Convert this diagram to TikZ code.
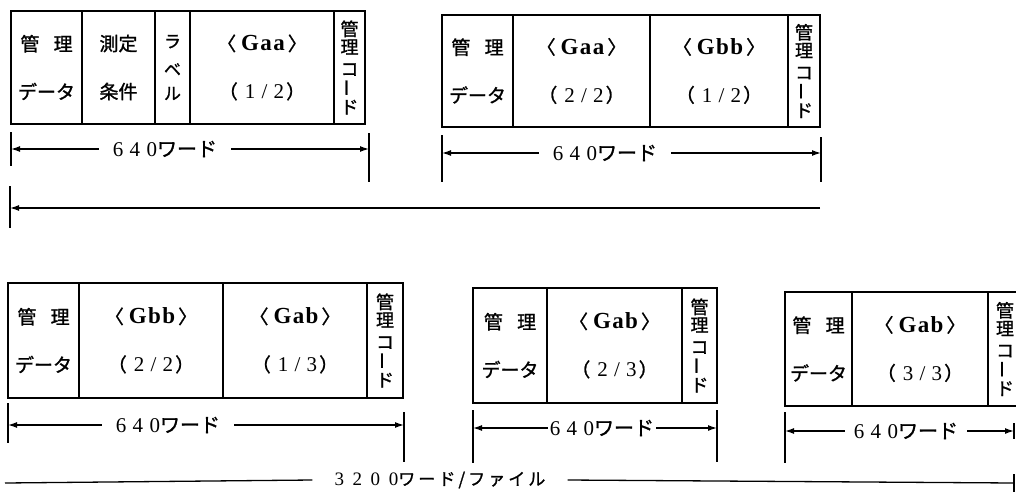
\documentclass[tikz,border=0pt]{standalone}
\usepackage{fontspec}
\usepackage{graphicx}
\usetikzlibrary{arrows.meta}
\setmainfont{Liberation Serif}
\newfontfamily\jp{Noto Sans CJK JP}[FakeBold=1.2]
\newfontfamily\jpw{Noto Sans CJK JP}[LetterSpace=18,FakeBold=1.2]
\newfontfamily\latw{Liberation Serif}[LetterSpace=6]
\newfontfamily\latww{Liberation Serif}[LetterSpace=30]
\newfontfamily\latwww{Liberation Serif}[LetterSpace=45]
\newcommand\mygrp[1]{{\jp 〈}\hspace{5pt}{\latw\bfseries\fontsize{23}{24}\selectfont #1}\hspace{3pt}{\jp 〉}}
\newcommand\myfrac[2]{{\jp （}\hspace{7pt}{\latww\fontsize{21}{22}\selectfont #1/#2}\hspace{2pt}{\jp ）}}
\newcommand\mywords{{\latww\fontsize{21}{22}\selectfont 640}{\jp ワード}}
\newcommand\mybar{\rotatebox{90}{ー}}
\newcommand\mycode{管\\[-3pt]理\\[1pt]コ\\[0pt]\mybar\\[-4pt]ド}
\newcommand\mymgmt{管\hspace{0.75em}理\\[26pt]データ}
\tikzset{
  cell/.style={draw, line width=1.5pt, inner sep=0pt, align=center,
    font=\jp\fontsize{19}{22}\selectfont},
  codecell/.style={cell, font=\jp\fontsize{18}{21}\selectfont},
  hA/.style={minimum height=113pt},
  hB/.style={minimum height=112pt},
  hC/.style={minimum height=115pt},
  hD/.style={minimum height=115pt},
  hE/.style={minimum height=114pt},
  dimlbl/.style={inner ysep=0pt, inner xsep=14pt, font=\jp\fontsize{20}{22}\selectfont},
  dimline/.style={line width=1.3pt, -{Latex[length=9pt,width=6pt]}},
  plainline/.style={line width=1.3pt},
  tickline/.style={line width=1.3pt}
}
\begin{document}
\begin{tikzpicture}[x=1pt,y=-1pt]
\useasboundingbox (0,0) rectangle (1016,503);
\clip (0,0) rectangle (1016,503);

% ---------- Box A ----------
\node[cell,hA,minimum width=71pt] (a1) at (46.5,67.5) {\mymgmt};
\node[cell,hA,minimum width=73pt] (a2) at (118.5,67.5) {測定\\[26pt]条件};
\node[cell,hA,minimum width=35pt,font=\jp\fontsize{17}{19}\selectfont] (a3) at (172.5,67.5) {ラ\\[9pt]ベ\\[5pt]ル};
\node[cell,hA,minimum width=144pt] (a4) at (262,67.5) {\mygrp{Gaa}\\[26pt]\myfrac{1}{2}};
\node[codecell,hA,minimum width=31pt] (a5) at (349.5,67.5) {\mycode};

\coordinate (aL) at (11,149);
\coordinate (aR) at (369,149);
\node[dimlbl] (aw) at (165,149) {\mywords};
\draw[dimline] (aw.west) -- (aL);
\draw[dimline] (aw.east) -- (aR);
\draw[tickline] (aL) ++(0,-17) -- ++(0,34);
\draw[tickline] (aR) ++(0,-16) -- ++(0,49);

% ---------- Box B ----------
\node[cell,hB,minimum width=71pt] (b1) at (477.5,71) {\mymgmt};
\node[cell,hB,minimum width=137pt] (b2) at (581.5,71) {\mygrp{Gaa}\\[26pt]\myfrac{2}{2}};
\node[cell,hB,minimum width=138pt] (b3) at (719,71) {\mygrp{Gbb}\\[26pt]\myfrac{1}{2}};
\node[codecell,hB,minimum width=32pt] (b4) at (804,71) {\mycode};

\coordinate (bL) at (442,153);
\coordinate (bR) at (821,153);
\node[dimlbl] (bw) at (605,153) {\mywords};
\draw[dimline] (bw.west) -- (bL);
\draw[dimline] (bw.east) -- (bR);
\draw[tickline] (bL) ++(0,-18) -- ++(0,47);
\draw[tickline] (bR) ++(0,-16) -- ++(0,45);

% ---------- long arrow ----------
\coordinate (lL) at (10,208);
\coordinate (lR) at (820,208);
\draw[dimline] (lR) -- (lL);
\draw[tickline] (lL) ++(0,-22) -- ++(0,42);

% ---------- Box C ----------
\node[cell,hC,minimum width=71pt] (c1) at (43.5,340.5) {\mymgmt};
\node[cell,hC,minimum width=144pt] (c2) at (151,340.5) {\mygrp{Gbb}\\[26pt]\myfrac{2}{2}};
\node[cell,hC,minimum width=144pt] (c3) at (295,340.5) {\mygrp{Gab}\\[26pt]\myfrac{1}{3}};
\node[codecell,hC,minimum width=36pt] (c4) at (385,340.5) {\mycode};

\coordinate (cL) at (8,425);
\coordinate (cR) at (404,425);
\node[dimlbl] (cw) at (168,425) {\mywords};
\draw[dimline] (cw.west) -- (cL);
\draw[dimline] (cw.east) -- (cR);
\draw[tickline] (cL) ++(0,-22) -- ++(0,40);
\draw[tickline] (cR) ++(0,-13) -- ++(0,50);

% ---------- Box D ----------
\node[cell,hD,minimum width=74pt] (d1) at (510,345.5) {\mymgmt};
\node[cell,hD,minimum width=135pt] (d2) at (614.5,345.5) {\mygrp{Gab}\\[26pt]\myfrac{2}{3}};
\node[codecell,hD,minimum width=35pt] (d3) at (699.5,345.5) {\mycode};

\coordinate (dL) at (473,428);
\coordinate (dR) at (717,428);
\node[dimlbl,inner xsep=2pt] (dw) at (602,428) {\mywords};
\draw[dimline] (dw.west) -- (dL);
\draw[dimline] (dw.east) -- (dR);
\draw[tickline] (dL) ++(0,-18) -- ++(0,53);
\draw[tickline] (dR) ++(0,-18) -- ++(0,52);

% ---------- Box E ----------
\node[cell,hE,minimum width=67pt] (e1) at (818.5,349) {\mymgmt};
\node[cell,hE,minimum width=136pt] (e2) at (920,349) {\mygrp{Gab}\\[26pt]\myfrac{3}{3}};
\node[codecell,hE,minimum width=34pt] (e3) at (1005,349) {\mycode};

\coordinate (eL) at (785,431);
\coordinate (eR) at (1014,431);
\node[dimlbl,inner xsep=9pt] (ew) at (906,431) {\mywords};
\draw[dimline] (ew.west) -- (eL);
\draw[dimline] (ew.east) -- (eR);
\draw[tickline] (eL) ++(0,-19) -- ++(0,51);
\draw[tickline] (eR) ++(0,-8) -- ++(0,16);

% ---------- total ----------
\coordinate (tL) at (5,483);
\coordinate (tR) at (1014,483);
\node[inner ysep=0pt, inner xsep=22pt] (tw) at (440,480) {{\latwww\fontsize{19}{20}\selectfont 3200}{\jpw\fontsize{17}{18}\selectfont ワード/ファイル}};
\draw[plainline] (tw.west) -- (tL);
\draw[plainline] (tw.east) -- (tR);
\draw[tickline] (tR) ++(0,-9) -- ++(0,18);
\end{tikzpicture}
\end{document}
